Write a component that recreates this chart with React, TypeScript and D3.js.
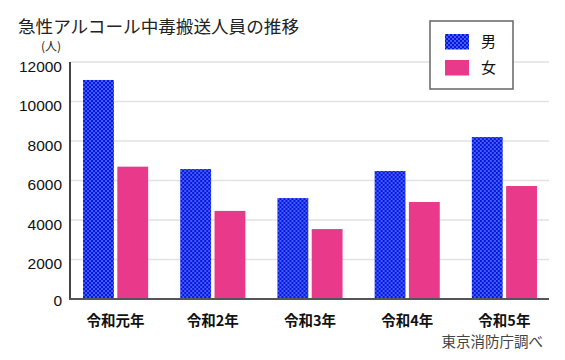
import React from "react";
import * as d3 from "d3";

const title = "急性アルコール中毒搬送人員の推移";
const unitLabel = "(人)";
const sourceLabel = "東京消防庁調べ";
const categories = ["令和元年", "令和2年", "令和3年", "令和4年", "令和5年"];
const seriesNames = ["男", "女"];
const maleValues = [11090, 6580, 5110, 6480, 8200];
const femaleValues = [6700, 4460, 3540, 4910, 5720];
const yTicks = [0, 2000, 4000, 6000, 8000, 10000, 12000];

const W = 565;
const H = 360;
const FONT = "'Noto Sans CJK JP', 'Noto Sans', sans-serif";
const NUMFONT = "'Liberation Sans', Arial, sans-serif";

export default function App() {
  const x = d3.scaleBand<string>().domain(categories).range([67, 553]).paddingInner(0.33).paddingOuter(0.165);
  const inner = d3.scaleBand<string>().domain(seriesNames).range([0, x.bandwidth()]).paddingInner(0.1);
  const y = d3.scaleLinear().domain([0, 12000]).range([299, 62]);
  const series = [maleValues, femaleValues];
  const fills = ["url(#checker)", "#e8398a"];

  return (
    <svg width={W} height={H} style={{ position: "absolute", left: 0, top: 0, background: "#fff" }}>
      <defs>
        <pattern id="checker" width={4} height={4} patternUnits="userSpaceOnUse">
          <rect width={4} height={4} fill="#3f5cff" />
          <rect width={2} height={2} fill="#0a16d8" />
          <rect x={2} y={2} width={2} height={2} fill="#0a16d8" />
        </pattern>
      </defs>
      <rect width={W} height={H} fill="#fff" />
      <text x={18} y={33} fontFamily={FONT} fontSize={17.6} fill="#222">{title}</text>
      <text x={51} y={51} fontFamily={FONT} fontSize={12} textAnchor="middle" fill="#222">{unitLabel}</text>
      {yTicks.map((t) => (
        <g key={t}>
          {t > 0 && <line x1={70} x2={549} y1={y(t)} y2={y(t)} stroke="#e2e2e2" strokeWidth={1.5} />}
          <text x={62} y={y(t) + (t === 0 ? 1 : 4)} dy="0.36em" textAnchor="end" fontFamily={NUMFONT} fontSize={15.5} fill="#111">{t}</text>
        </g>
      ))}
      {categories.map((c, i) => (
        <g key={c} transform={`translate(${x(c)},0)`}>
          {seriesNames.map((s, j) => (
            <rect key={s} x={inner(s)} y={y(series[j][i])} width={inner.bandwidth()} height={y(0) - y(series[j][i])} fill={fills[j]} />
          ))}
          <text x={x.bandwidth() / 2} y={326} textAnchor="middle" fontFamily={FONT} fontSize={14.5} fontWeight="bold" fill="#111">{c}</text>
        </g>
      ))}
      <line x1={70} x2={70} y1={62} y2={300} stroke="#444" strokeWidth={2} />
      <line x1={69} x2={549} y1={299} y2={299} stroke="#555" strokeWidth={2} />
      <text x={543} y={347} textAnchor="end" fontFamily={FONT} fontSize={14.5} fill="#444">{sourceLabel}</text>
      <g>
        <rect x={430} y={21} width={83} height={68} fill="#fff" stroke="#666" strokeWidth={1.5} />
        {seriesNames.map((s, j) => (
          <g key={s}>
            <rect x={445} y={34 + j * 26} width={24} height={15.5} fill={fills[j]} />
            <text x={481} y={42 + j * 26} dy="0.36em" fontFamily={FONT} fontSize={15} fill="#111">{s}</text>
          </g>
        ))}
      </g>
    </svg>
  );
}
